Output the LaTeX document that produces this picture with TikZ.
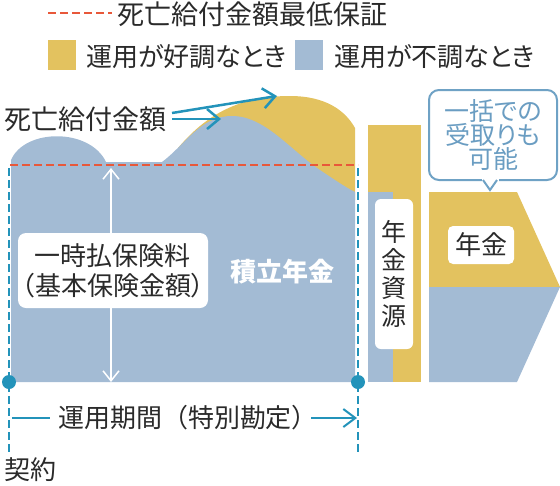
\documentclass[tikz,border=0pt]{standalone}
\usepackage{fontspec}
\setmainfont[RawFeature=+palt]{Noto Sans CJK JP}
\newfontfamily\fullw{Noto Sans CJK JP}
\usetikzlibrary{arrows.meta}
\definecolor{yel}{HTML}{E3C25F}
\definecolor{blu}{HTML}{A3BBD4}
\definecolor{teal2}{HTML}{2393BA}
\definecolor{redd}{HTML}{E8583A}
\definecolor{bubc}{HTML}{6FA2C5}
\definecolor{bubt}{HTML}{6A9DC2}
\definecolor{txtc}{HTML}{2A2A2A}
\tikzset{
  txt/.style={inner sep=0pt, text=txtc, font=\fontsize{26}{30}\selectfont},
  sq/.style={inner sep=0pt, minimum width=28pt, minimum height=30pt},
  reddash/.style={draw=redd, line width=2pt, dash pattern=on 8pt off 4pt},
  tealdash/.style={draw=teal2, line width=2pt, dash pattern=on 8pt off 4pt},
  tealarrow/.style={draw=teal2, line width=2.5pt, -{Straight Barb[length=12pt, width=20pt, line width=2.5pt]}},
  whitearrow/.style={draw=white, line width=1.5pt, {Straight Barb[length=10pt, width=16pt, line width=1.5pt]}-{Straight Barb[length=10pt, width=16pt, line width=1.5pt]}},
  dotn/.style={circle, fill=teal2, inner sep=0pt, minimum size=14pt},
  wbox/.style={fill=white, rounded corners=8pt, inner sep=0pt, align=center, text=txtc},
}
\begin{document}
\begin{tikzpicture}[x=1pt,y=-1pt]
\useasboundingbox (0,0) rectangle (560,485);
% legend
\coordinate (r1) at (48,13);
\coordinate (r2) at (112,13);
\draw[reddash] (r1) -- (r2);
\node[txt, anchor=west, font=\fontsize{27}{30}\selectfont] (lg1) at (117,14) {死亡給付金額最低保証};
\node[sq, fill=yel] (sq1) at (61.5,55) {};
\node[txt, anchor=west] (lg2) at (86,57) {運用が好調なとき};
\node[sq, fill=blu] (sq2) at (309,55) {};
\node[txt, anchor=west] (lg3) at (334,57) {運用が不調なとき};
% yellow (good) area
\fill[yel] (178,148) .. controls (210,110) and (245,96) .. (290,96)
   .. controls (325,96) and (345,110) .. (355,128) -- (355,200) -- (200,200) -- cycle;
% blue (bad) area
\fill[blu] (11,382) -- (11,160) .. controls (25,128) and (90,128) .. (106,162)
   -- (162,162) .. controls (185,145) and (200,116) .. (232,116)
   .. controls (265,116) and (290,150) .. (320,170)
   .. controls (335,180) and (345,187) .. (355,192) -- (355,382) -- cycle;
% minimum guarantee line
\coordinate (g1) at (10,165);
\coordinate (g2) at (358,165);
\draw[reddash] (g1) -- (g2);
% vertical dashed lines
\coordinate (v1a) at (9,168);
\coordinate (v1b) at (9,453);
\coordinate (v2a) at (358,168);
\coordinate (v2b) at (358,453);
\draw[tealdash] (v1a) -- (v1b);
\draw[tealdash] (v2a) -- (v2b);
\node[dotn] (d1) at (9,382) {};
\node[dotn] (d2) at (358,382) {};
% white arrow
\coordinate (wa1) at (111,168);
\coordinate (wa2) at (111,382);
\draw[whitearrow] (wa1) -- (wa2);
\node[wbox, minimum width=190pt, minimum height=75pt, font=\fontsize{26}{30}\selectfont] (prem) at (113,270.5) {一時払保険料\\（基本保険金額）};
\node[inner sep=0pt, text=white, font=\bfseries\fontsize{26}{30}\selectfont] (tsumi) at (282,272) {積立年金};
% death benefit label
\node[txt, anchor=west, font=\fontsize{27}{30}\selectfont] (dlab) at (4,119) {死亡給付金額};
\coordinate (da1) at (172,113);
\coordinate (da2) at (277,96);
\coordinate (db1) at (172,119);
\coordinate (db2) at (221,119);
\draw[tealarrow] (da1) -- (da2);
\draw[tealarrow] (db1) -- (db2);
% middle column
\fill[yel] (368,125) rectangle (421,382);
\fill[blu] (368,192) rectangle (393,382);
\node[wbox, rounded corners=6pt, minimum width=38pt, minimum height=150pt, font=\fontsize{25}{28}\selectfont] (src) at (394,274) {年\\金\\資\\源};
% right shape
\fill[yel] (429,192) -- (517,192) -- (560,287) -- (429,287) -- cycle;
\fill[blu] (429,287) -- (560,287) -- (517,382) -- (429,382) -- cycle;
\node[wbox, rounded corners=5pt, minimum width=66pt, minimum height=38pt, font=\fontsize{26}{30}\selectfont] (nenkin) at (481,245) {年金};
% bubble
\node[draw=bubc, line width=2pt, fill=white, rounded corners=10pt, minimum width=128pt, minimum height=90pt, inner sep=0pt, align=center, text=bubt, font=\fontsize{25}{24}\selectfont] (bub) at (493,135) {一括での\\受取りも\\可能};
\coordinate (p1) at (483,180);
\coordinate (p2) at (490,190);
\coordinate (p3) at (497,180);
\fill[white] (481.5,178.5) rectangle (498.5,181.5);
\fill[white] (p1) -- (p2) -- (p3) -- cycle;
\draw[bubc, line width=2pt, line join=miter] (p1) -- (p2) -- (p3);
% bottom period
\node[txt, font=\fullw\fontsize{26}{30}\selectfont] (per) at (188,418) {運用期間（特別勘定）};
\coordinate (l1) at (12,418);
\coordinate (l2) at (50,418);
\coordinate (l3) at (311,418);
\coordinate (l4) at (357,418);
\draw[teal2, line width=2pt] (l1) -- (l2);
\draw[teal2, line width=2pt, -{Straight Barb[length=12pt, width=18pt, line width=2pt]}] (l3) -- (l4);
\node[txt, anchor=west] (kei) at (4,470) {契約};
\end{tikzpicture}
\end{document}
